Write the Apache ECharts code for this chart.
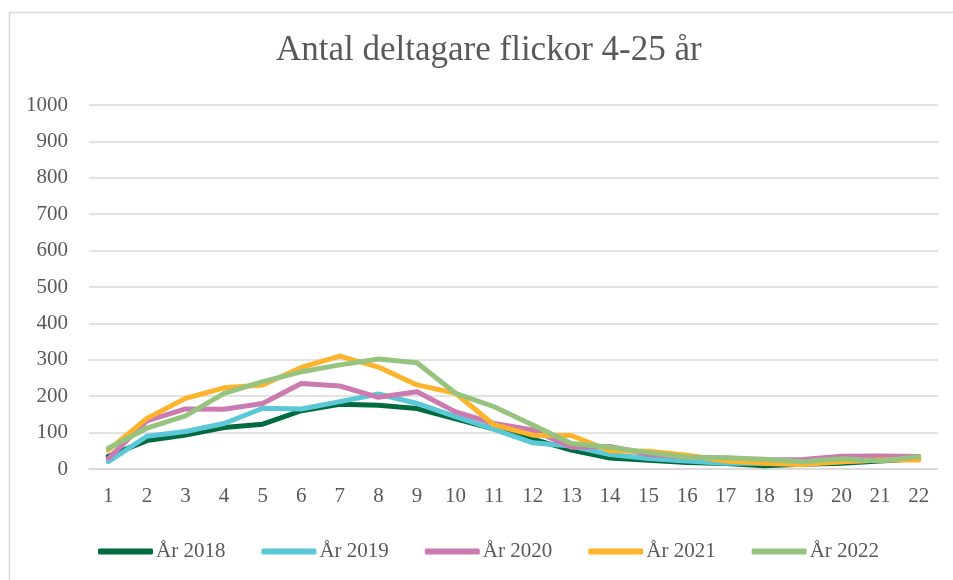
<!DOCTYPE html>
<html>
<head>
<meta charset="utf-8">
<script src="https://cdn.jsdelivr.net/npm/echarts@6/dist/echarts.min.js"></script>
<style>
html,body{margin:0;padding:0;background:#fff;}
#c{width:953px;height:580px;}
</style>
</head>
<body>
<div id="c"></div>
<script>
var categories = ['1','2','3','4','5','6','7','8','9','10','11','12','13','14','15','16','17','18','19','20','21','22'];
var seriesNames = ['År 2018','År 2019','År 2020','År 2021','År 2022'];
var d2018 = [35, 78, 93, 114, 123, 160, 178, 175, 166, 138, 110, 82, 52, 30, 24, 18, 15, 9, 13, 16, 22, 28];
var d2019 = [20, 90, 103, 125, 167, 165, 185, 206, 180, 144, 109, 72, 63, 40, 29, 22, 16, 16, 17, 20, 25, 30];
var d2020 = [29, 132, 165, 164, 180, 235, 228, 197, 212, 157, 125, 107, 60, 62, 40, 33, 30, 25, 26, 35, 36, 34];
var d2021 = [52, 139, 194, 223, 231, 279, 310, 280, 231, 208, 121, 93, 92, 50, 49, 38, 22, 16, 12, 20, 25, 25];
var d2022 = [57, 112, 146, 208, 240, 267, 286, 302, 292, 208, 171, 121, 70, 60, 45, 32, 31, 27, 20, 28, 22, 34];
var colors = ['#006B3F', '#5BC8D7', '#CB7BB0', '#FDB32B', '#96C47E'];

var dataSets = [d2018, d2019, d2020, d2021, d2022];
var FONT = '"Liberation Serif", "DejaVu Serif", serif';

var chart = echarts.init(document.getElementById('c'), null, {renderer: 'canvas'});
chart.setOption({
  animation: false,
  color: colors,
  graphic: [{
    type: 'rect', left: 7, top: 10, silent: true,
    shape: {width: 960, height: 600},
    style: {fill: 'none', stroke: '#d9d9d9', lineWidth: 1.5}
  }],
  title: {
    text: 'Antal deltagare flickor 4-25 år',
    left: 271, top: 28,
    textStyle: {fontFamily: FONT, fontSize: 35, fontWeight: 'normal', color: '#595959'}
  },
  legend: {
    data: seriesNames,
    left: 93, top: 536,
    itemWidth: 55, itemHeight: 6, itemGap: 36,
    icon: 'roundRect',
    textStyle: {fontFamily: FONT, fontSize: 21, color: '#595959', padding: [0,0,0,-2]}
  },
  grid: {left: 89, right: 15, top: 105, bottom: 111, containLabel: false},
  xAxis: {
    type: 'category', data: categories, boundaryGap: true,
    axisLine: {show: true, lineStyle: {color: '#d9d9d9', width: 1.5}},
    axisTick: {show: false},
    axisLabel: {fontFamily: FONT, fontSize: 21, color: '#595959', margin: 17}
  },
  yAxis: {
    type: 'value', min: 0, max: 1000, interval: 100,
    axisLine: {show: false}, axisTick: {show: false},
    splitLine: {lineStyle: {color: '#d9d9d9', width: 1.5}},
    axisLabel: {fontFamily: FONT, fontSize: 21, color: '#595959', margin: 21,
      formatter: function (v) { return String(v); }}
  },
  series: seriesNames.map(function (n, i) {
    return {
      name: n, type: 'line', data: dataSets[i],
      symbol: 'none', smooth: false,
      lineStyle: {width: 5, color: colors[i], cap: 'round', join: 'round'},
      itemStyle: {color: colors[i]}
    };
  })
});
</script>
</body>
</html>
